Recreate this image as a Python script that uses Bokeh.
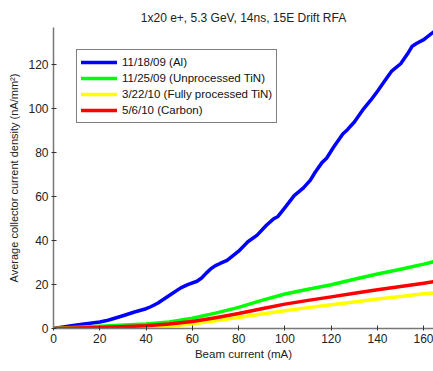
from bokeh.plotting import figure
from bokeh.models import Range1d, Legend, LegendItem, FixedTicker
from bokeh.embed import file_html
from bokeh.resources import INLINE

title = "1x20 e+, 5.3 GeV, 14ns, 15E Drift RFA"
x_label = "Beam current (mA)"
y_label = "Average collector current density (nA/mm\u00b2)"

labels = ["11/18/09 (Al)", "11/25/09 (Unprocessed TiN)",
          "3/22/10 (Fully processed TiN)", "5/6/10 (Carbon)"]
colors = ["#0000ff", "#00ff00", "#ffff00", "#ff0000"]

al_x = [0, 5, 10, 15, 20, 23, 25, 30, 35, 40, 42, 45, 50, 55, 58, 62, 64, 66, 68, 70, 72, 75,
        80, 84, 88, 92, 95, 97, 100, 104, 108, 111, 113, 116, 118, 121, 125, 127, 130,
        134, 137, 140, 143, 146, 150, 153, 155, 157, 160, 163, 165]
al_y = [0, 0.8, 1.6, 2.3, 3.0, 3.6, 4.2, 5.8, 7.5, 9.0, 9.9, 11.5, 15.0, 18.5, 20.0, 21.5, 23.0, 25.2, 27.2, 28.6, 29.6, 31.0,
        35.2, 39.5, 42.5, 47.0, 49.8, 51.0, 55.0, 60.5, 64.0, 67.5, 71.0, 75.5, 77.5, 82.5, 88.5, 90.5, 94.0,
        100.0, 103.8, 108.0, 112.5, 117.0, 120.5, 125.0, 128.5, 129.8, 131.5, 134.0, 135.5]

tin_x = [0, 20, 40, 50, 60, 70, 80, 90, 100, 110, 120, 130, 140, 150, 160, 165]
tin_y = [0, 1.0, 2.0, 3.0, 4.7, 7.0, 9.6, 12.8, 15.7, 17.9, 19.9, 22.4, 24.8, 27.0, 29.3, 30.6]

ftin_x = [0, 20, 40, 50, 60, 70, 80, 90, 100, 110, 120, 130, 140, 150, 160, 165]
ftin_y = [0, 0.1, 0.5, 1.1, 2.0, 3.5, 5.0, 6.6, 8.1, 9.5, 10.8, 12.1, 13.4, 14.6, 15.8, 16.3]

c_x = [0, 20, 40, 50, 60, 70, 80, 90, 100, 110, 120, 130, 140, 150, 160, 165]
c_y = [0, 0.4, 1.2, 2.0, 3.2, 4.9, 6.8, 9.0, 11.1, 12.8, 14.4, 16.0, 17.6, 19.1, 20.6, 21.4]

x_ticks = [0, 20, 40, 60, 80, 100, 120, 140, 160]
y_ticks = [0, 20, 40, 60, 80, 100, 120]

FONT = "Liberation Sans"

p = figure(width=433, height=371, output_backend="svg", toolbar_location=None,
           x_range=Range1d(0, 164.2), y_range=Range1d(0, 137),
           min_border_left=53, min_border_right=0, min_border_top=27, min_border_bottom=43)
p.title.text = title
p.title.text_font = FONT
p.title.text_font_size = "12px"
p.title.text_font_style = "normal"
p.title.align = "center"
p.title.text_color = "#222222"
p.title.standoff = 6
p.outline_line_color = None
p.xgrid.visible = False
p.ygrid.visible = False
p.background_fill_color = "white"

for ax, ticks, lab in ((p.xaxis[0], x_ticks, x_label), (p.yaxis[0], y_ticks, y_label)):
    ax.ticker = FixedTicker(ticks=ticks)
    ax.axis_label = lab
    ax.axis_label_text_font = FONT
    ax.axis_label_text_font_style = "normal"
    ax.axis_label_text_color = "#222222"
    ax.major_label_text_font = FONT
    ax.major_label_text_font_size = "12px"
    ax.major_label_text_color = "#222222"
    ax.axis_line_color = "#777777"
    ax.axis_line_width = 1.5
    ax.major_tick_line_color = "#333333"
    ax.major_tick_in = 3
    ax.major_tick_out = 2
    ax.minor_tick_line_color = None
p.xaxis.axis_label_text_font_size = "11.5px"
p.yaxis.axis_label_text_font_size = "11px"
p.xaxis.major_label_standoff = 3
p.xaxis.axis_label_standoff = 2
p.yaxis.major_label_standoff = 3
p.yaxis.axis_label_standoff = 5

series = [(al_x, al_y), (tin_x, tin_y), (ftin_x, ftin_y), (c_x, c_y)]
items = []
for (xs, ys), col, lab in zip(series, colors, labels):
    r = p.line(xs, ys, line_color=col, line_width=3.5, line_join="round", line_cap="round")
    items.append(LegendItem(label=lab, renderers=[r]))

legend = Legend(items=items, location=(23, 205))
legend.label_text_font = FONT
legend.label_text_font_size = "11.5px"
legend.label_text_color = "#111111"
legend.border_line_color = "black"
legend.border_line_width = 1.5
legend.padding = 4
legend.spacing = 0
legend.margin = 0
legend.glyph_width = 36
legend.glyph_height = 16
legend.label_height = 16
legend.label_standoff = 5
legend.background_fill_alpha = 1
p.add_layout(legend, "center")

open("out.html", "w").write(file_html(p, INLINE))
